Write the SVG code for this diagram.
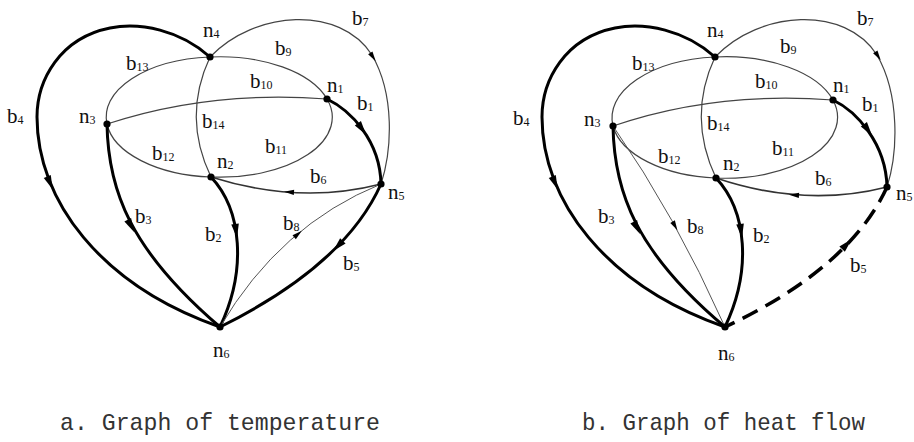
<svg xmlns="http://www.w3.org/2000/svg" xmlns:xlink="http://www.w3.org/1999/xlink" width="914" height="442" viewBox="0 0 914 442">
<style>
.thick{fill:none;stroke:#000;stroke-width:3}
.thin{fill:none;stroke:#444;stroke-width:1.2}
.mid{fill:none;stroke:#333;stroke-width:1.6}
.hair{fill:none;stroke:#555;stroke-width:1}
.dash{fill:none;stroke:#000;stroke-width:3.5;stroke-dasharray:17 9}
.lb{font-family:"Liberation Serif","DejaVu Serif",serif;font-size:21px;fill:#111}
.s{font-size:12px}
.cap{font-family:"Liberation Mono","DejaVu Sans Mono",monospace;font-size:24px;fill:#333}
.dot{fill:#000}
.ah{fill:#000}
</style>
<defs>
<path id="ah" d="M7,0 L-7,-3.8 L-7,3.8 Z"/>
<path id="ahs" d="M5,0 L-5,-2.6 L-5,2.6 Z"/>
</defs>
<rect width="914" height="442" fill="#fff"/>

<!-- ===== Diagram a ===== -->
<g id="edges-a">
  <path class="thin" d="M210,57 A112,60 0 0 0 107,124"/>
  <path class="thin" d="M107,124 A112,60 0 0 0 211,177"/>
  <path class="thin" d="M211,177 A112,60 0 0 0 327,99"/>
  <path class="thin" d="M327,99 A112,60 0 0 0 210,57"/>
  <path class="thin" d="M210,57 Q182,117 211,177"/>
  <path class="thin" d="M107,124 Q210,90 327,99"/>
  <path class="thin" d="M210,57 C255,10 340,5 372,55 C395,95 392,150 381,184"/>
  <path class="thick" d="M210,57 C180,30 140,22 110,28 C60,38 37,80 37,117 C37,200 100,285 220,327"/>
  <path class="thick" d="M327,99 C350,110 380,140 381,184"/>
  <path class="mid" d="M381,184 Q300,205 211,177"/>
  <path class="thick" d="M211,177 C242,210 247,270 220,327"/>
  <path class="thick" d="M107,124 C108,190 130,250 220,327"/>
  <path class="hair" d="M220,327 Q280,225 381,184"/>
  <path class="thick" d="M381,184 Q345,265 220,327"/>
  <use href="#ah" class="ah" transform="translate(50,183) rotate(67)"/>
  <use href="#ah" class="ah" transform="translate(362,129) rotate(54)"/>
  <use href="#ah" class="ah" transform="translate(236,231) rotate(82)"/>
  <use href="#ah" class="ah" transform="translate(131,226) rotate(62)"/>
  <use href="#ah" class="ah" transform="translate(338,246) rotate(134)"/>
  <use href="#ahs" class="ah" transform="translate(289,192) rotate(184)"/>
  <use href="#ahs" class="ah" transform="translate(373,57) rotate(57)"/>
  <use href="#ahs" class="ah" transform="translate(298,234) rotate(-40)"/>
</g>
<g id="nodes-a">
  <g id="a-n4"><circle class="dot" cx="210" cy="57" r="3.6"/><text class="lb" x="203" y="37">n<tspan class="s" dy="1">4</tspan></text></g>
  <g id="a-n1"><circle class="dot" cx="327" cy="99" r="3.6"/><text class="lb" x="327" y="92">n<tspan class="s" dy="1">1</tspan></text></g>
  <g id="a-n3"><circle class="dot" cx="107" cy="124" r="3.6"/><text class="lb" x="79" y="123">n<tspan class="s" dy="1">3</tspan></text></g>
  <g id="a-n2"><circle class="dot" cx="211" cy="177" r="3.6"/><text class="lb" x="217" y="168">n<tspan class="s" dy="1">2</tspan></text></g>
  <g id="a-n5"><circle class="dot" cx="381" cy="184" r="3.6"/><text class="lb" x="388" y="199">n<tspan class="s" dy="1">5</tspan></text></g>
  <g id="a-n6"><circle class="dot" cx="220" cy="327" r="3.6"/><text class="lb" x="213" y="357">n<tspan class="s" dy="1">6</tspan></text></g>
</g>
<g id="labels-a">
  <text class="lb" x="352" y="25">b<tspan class="s" dy="1">7</tspan></text>
  <text class="lb" x="275" y="55">b<tspan class="s" dy="1">9</tspan></text>
  <text class="lb" x="126" y="70">b<tspan class="s" dy="1">13</tspan></text>
  <text class="lb" x="250" y="88">b<tspan class="s" dy="1">10</tspan></text>
  <text class="lb" x="357" y="110">b<tspan class="s" dy="1">1</tspan></text>
  <text class="lb" x="7" y="123">b<tspan class="s" dy="1">4</tspan></text>
  <text class="lb" x="202" y="128">b<tspan class="s" dy="1">14</tspan></text>
  <text class="lb" x="265" y="153">b<tspan class="s" dy="1">11</tspan></text>
  <text class="lb" x="152" y="160">b<tspan class="s" dy="1">12</tspan></text>
  <text class="lb" x="310" y="183">b<tspan class="s" dy="1">6</tspan></text>
  <text class="lb" x="135" y="223">b<tspan class="s" dy="1">3</tspan></text>
  <text class="lb" x="205" y="241">b<tspan class="s" dy="1">2</tspan></text>
  <text class="lb" x="283" y="230">b<tspan class="s" dy="1">8</tspan></text>
  <text class="lb" x="343" y="270">b<tspan class="s" dy="1">5</tspan></text>
</g>

<!-- ===== Diagram b ===== -->
<g id="edges-b">
  <path class="thin" d="M715,57 A112,61 0 0 0 613,126"/>
  <path class="thin" d="M613,126 A112,61 0 0 0 716,178"/>
  <path class="thin" d="M716,178 A112,61 0 0 0 833,100"/>
  <path class="thin" d="M833,100 A112,61 0 0 0 715,57"/>
  <path class="thin" d="M715,57 Q687,117 716,178"/>
  <path class="thin" d="M613,126 Q715,91 833,100"/>
  <path class="thin" d="M715,57 C760,10 845,5 877,55 C900,95 898,153 887,187"/>
  <path class="thick" d="M715,57 C685,30 645,22 615,28 C565,38 542,80 542,117 C542,200 605,285 725,327"/>
  <path class="thick" d="M833,100 C856,111 886,143 887,187"/>
  <path class="mid" d="M887,187 Q805,208 716,178"/>
  <path class="thick" d="M716,178 C747,211 752,270 725,327"/>
  <path class="thick" d="M613,126 C614,192 636,252 725,327"/>
  <path class="hair" d="M613,126 Q675,215 725,327"/>
  <path class="dash" d="M887,187 Q850,268 725,327"/>
  <use href="#ah" class="ah" transform="translate(555,183) rotate(67)"/>
  <use href="#ah" class="ah" transform="translate(868,130) rotate(54)"/>
  <use href="#ah" class="ah" transform="translate(741,231) rotate(82)"/>
  <use href="#ah" class="ah" transform="translate(637,228) rotate(62)"/>
  <use href="#ah" class="ah" transform="translate(847,244) rotate(-46)"/>
  <use href="#ahs" class="ah" transform="translate(794,195) rotate(184)"/>
  <use href="#ahs" class="ah" transform="translate(878,56) rotate(57)"/>
  <use href="#ahs" class="ah" transform="translate(675,226) rotate(61)"/>
</g>
<g id="nodes-b">
  <g id="b-n4"><circle class="dot" cx="715" cy="57" r="3.6"/><text class="lb" x="707" y="37">n<tspan class="s" dy="1">4</tspan></text></g>
  <g id="b-n1"><circle class="dot" cx="833" cy="100" r="3.6"/><text class="lb" x="833" y="92">n<tspan class="s" dy="1">1</tspan></text></g>
  <g id="b-n3"><circle class="dot" cx="613" cy="126" r="3.6"/><text class="lb" x="584" y="126">n<tspan class="s" dy="1">3</tspan></text></g>
  <g id="b-n2"><circle class="dot" cx="716" cy="178" r="3.6"/><text class="lb" x="723" y="170">n<tspan class="s" dy="1">2</tspan></text></g>
  <g id="b-n5"><circle class="dot" cx="887" cy="187" r="3.6"/><text class="lb" x="896" y="200">n<tspan class="s" dy="1">5</tspan></text></g>
  <g id="b-n6"><circle class="dot" cx="725" cy="327" r="3.6"/><text class="lb" x="718" y="360">n<tspan class="s" dy="1">6</tspan></text></g>
</g>
<g id="labels-b">
  <text class="lb" x="857" y="25">b<tspan class="s" dy="1">7</tspan></text>
  <text class="lb" x="780" y="53">b<tspan class="s" dy="1">9</tspan></text>
  <text class="lb" x="632" y="70">b<tspan class="s" dy="1">13</tspan></text>
  <text class="lb" x="755" y="88">b<tspan class="s" dy="1">10</tspan></text>
  <text class="lb" x="862" y="111">b<tspan class="s" dy="1">1</tspan></text>
  <text class="lb" x="513" y="125">b<tspan class="s" dy="1">4</tspan></text>
  <text class="lb" x="707" y="130">b<tspan class="s" dy="1">14</tspan></text>
  <text class="lb" x="772" y="155">b<tspan class="s" dy="1">11</tspan></text>
  <text class="lb" x="658" y="163">b<tspan class="s" dy="1">12</tspan></text>
  <text class="lb" x="815" y="185">b<tspan class="s" dy="1">6</tspan></text>
  <text class="lb" x="598" y="223">b<tspan class="s" dy="1">3</tspan></text>
  <text class="lb" x="687" y="233">b<tspan class="s" dy="1">8</tspan></text>
  <text class="lb" x="753" y="242">b<tspan class="s" dy="1">2</tspan></text>
  <text class="lb" x="850" y="272">b<tspan class="s" dy="1">5</tspan></text>
</g>

<g id="captions">
  <text class="cap" x="60" y="430" textLength="320" lengthAdjust="spacingAndGlyphs">a. Graph of temperature</text>
  <text class="cap" x="582" y="430" textLength="283" lengthAdjust="spacingAndGlyphs">b. Graph of heat flow</text>
</g>
</svg>
